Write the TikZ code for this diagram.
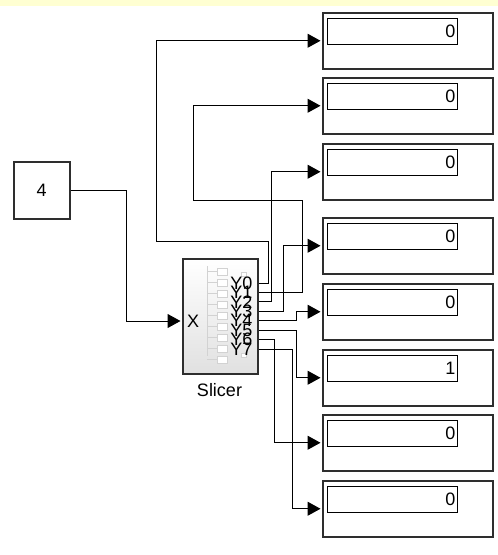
\documentclass[tikz,border=0pt]{standalone}
\usepackage{fontspec}
\setmainfont{Liberation Sans}
\usetikzlibrary{arrows.meta,shadows}
\definecolor{bandyellow}{HTML}{FFFFD2}
\definecolor{blockedge}{HTML}{2E2E2E}
\definecolor{iconline}{HTML}{D2D2D2}

\begin{document}
\begin{tikzpicture}[x=1pt,y=-1pt,
  wire/.style={line width=1pt, black},
  sig/.style={wire, -{Triangle[length=13pt,width=14pt]}, shorten >=1.5pt},
  block/.style={draw=blockedge, line width=1.5pt, fill=white, inner sep=0,
    drop shadow={shadow xshift=1.5pt, shadow yshift=-1.5pt, opacity=0.3}},
  display/.style={block, minimum width=170pt, minimum height=56pt, anchor=north west},
  field/.style={draw=black, line width=1pt, minimum width=130pt, minimum height=26pt,
    anchor=north west, inner sep=0},
  lbl/.style={font=\fontsize{18}{21}\selectfont, inner sep=0},
  iconbox/.style={draw=iconline, line width=0.8pt, fill=white}
]
\useasboundingbox (0,0) rectangle (498,555);
\fill[white] (0,0) rectangle (498,555);
\fill[bandyellow] (0,0) rectangle (498,5.5);

% display blocks with their value fields
\foreach \i/\t/\v in {1/12/0,2/77/0,3/143/0,4/217/0,5/283/0,6/349/1,7/414/0,8/480/0} {
  \node[display] (d\i) at (322,\t) {};
  \node[field] (f\i) at (327,\t+6) {};
  \node[lbl, anchor=east] (v\i) at ([xshift=-2.5pt]f\i.east) {\v};
}

% constant source
\node[block, lbl, minimum width=56pt, minimum height=57pt, anchor=north west] (c) at (13,161) {4};

% slicer block
\node[block, minimum width=75pt, minimum height=115pt, anchor=north west,
      top color=white, bottom color=gray!24] (s) at (182,258) {};
\node[lbl] (sname) at (219.5,390) {Slicer};

% slicer icon
\draw[iconline, line width=0.8pt] (207,266) -- (207,356);
\foreach \k in {0,...,8} {
  \draw[iconline, line width=0.8pt] (207,271.5+11*\k) -- (217,271.5+11*\k);
  \draw[iconbox] (217,268+11*\k) rectangle (227,275+11*\k);
}
\draw[iconbox] (241,272) rectangle (246,276);
\draw[iconbox] (241,353) rectangle (246,357);

% input label and ports
\node[lbl, anchor=west] (xl) at (187,321) {X};
\path (s.north west) ++(0,63) coordinate (pin);
\foreach \k in {0,...,7} {
  \path (s.north east) ++(0,25+9.45*\k) coordinate (p\k);
  \node[lbl, anchor=east] (yl\k) at (252.5,283+9.45*\k) {Y\k};
}

% connectors
\draw[sig] (c.east) -- ++(56,0) |- (pin);
\draw[sig] (p0) -- ++(10,0) |- (156,241) |- (d1.west);
\draw[sig] (p1) -- ++(44,0) |- (193,200) |- (d2.west);
\draw[sig] (p2) -- ++(13,0) |- (d3.west);
\draw[sig] (p3) -- ++(25,0) |- (d4.west);
\draw[sig] (p4) -- ++(37.5,0) |- (d5.west);
\draw[sig] (p5) -- ++(37.5,0) |- (d6.west);
\draw[sig] (p6) -- ++(16,0) |- (d7.west);
\draw[sig] (p7) -- ++(33.5,0) |- (d8.west);
\end{tikzpicture}
\end{document}
